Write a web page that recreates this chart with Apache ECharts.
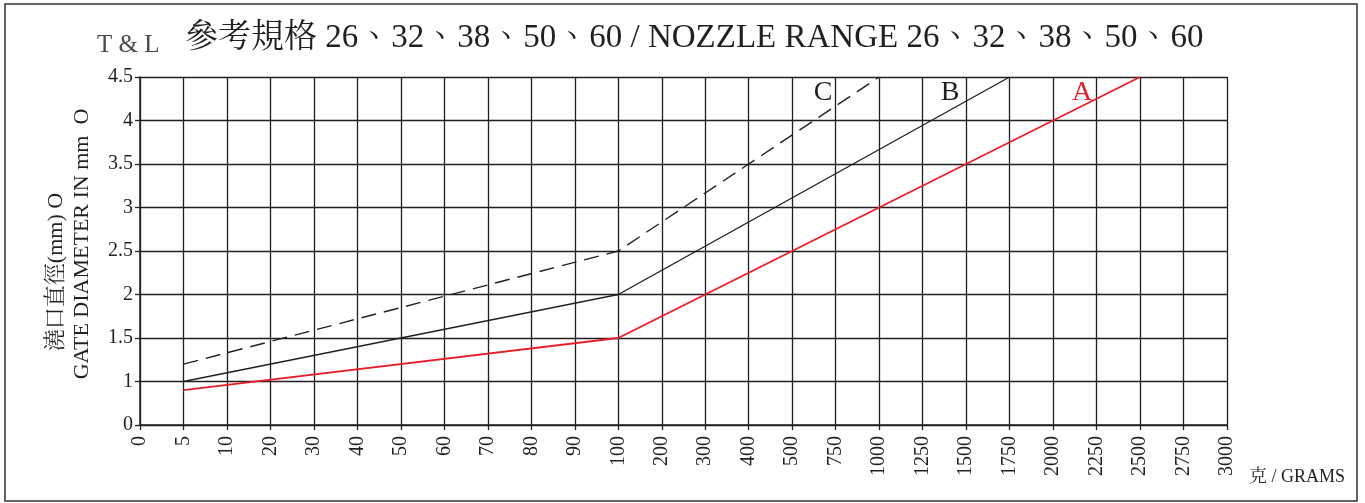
<!DOCTYPE html>
<html><head><meta charset="utf-8">
<script src="https://cdn.jsdelivr.net/npm/echarts@6/dist/echarts.min.js"></script>
<style>html,body{margin:0;padding:0;background:#fff}#c{width:1365px;height:503px}</style>
</head><body><div id="c"></div>
<script>
const categories = ['0','5','10','20','30','40','50','60','70','80','90','100','200','300','400','500','750','1000','1250','1500','1750','2000','2250','2500','2750','3000'];
const yTickLabels = ['0','1','1.5','2','2.5','3','3.5','4','4.5'];
const gramsA = ['5','100','2500'];
const valuesA = [0.8, 1.5, 4.5];
const gramsB = ['5','100','1750'];
const valuesB = [1.0, 2.0, 4.5];
const gramsC = ['5','100','1000'];
const valuesC = [1.2, 2.5, 4.5];

const SERIF = "'Liberation Serif','Noto Serif CJK TC','Noto Sans CJK TC',serif";
const INK = '#231f20';
// axis is piecewise: 0..1 occupies one step, then 0.5 per step
function toAxis(v){ return v <= 1 ? v : 1 + (v - 1) * 2; }
function pairs(g, v){ return g.map((x,i)=>[x, toAxis(v[i])]); }

const chart = echarts.init(document.getElementById('c'), null, {renderer:'canvas'});
chart.setOption({
  animation:false,
  backgroundColor:'#fff',
  grid:{left:140, right:138, top:77, bottom:78, containLabel:false},
  xAxis:{
    type:'category', data:categories, boundaryGap:false,
    axisLine:{lineStyle:{color:INK, width:1.5}},
    axisTick:{show:true, length:5, lineStyle:{color:INK, width:1.3}},
    splitLine:{show:true, lineStyle:{color:INK, width:1.3}},
    axisLabel:{rotate:90, interval:0, margin:11, color:INK, fontFamily:SERIF, fontSize:20}
  },
  yAxis:{
    type:'value', min:0, max:8, interval:1,
    axisLine:{show:true, lineStyle:{color:INK, width:1.5}},
    axisTick:{show:true, length:5, lineStyle:{color:INK, width:1.3}},
    splitLine:{show:true, lineStyle:{color:INK, width:1.3}},
    axisLabel:{margin:7, color:INK, fontFamily:SERIF, fontSize:20, formatter:(v)=>yTickLabels[v] ?? ''}
  },
  series:[
    {type:'line', name:'C', data:pairs(gramsC, valuesC), symbol:'none', lineStyle:{color:INK, width:1.4, type:[15,8]}},
    {type:'line', name:'B', data:pairs(gramsB, valuesB), symbol:'none', lineStyle:{color:INK, width:1.4}},
    {type:'line', name:'A', data:pairs(gramsA, valuesA), symbol:'none', lineStyle:{color:'#e61e28', width:1.8}}
  ],
  graphic:[
    {type:'rect', shape:{x:5, y:4, width:1352, height:497}, style:{fill:null, stroke:'#333', lineWidth:1.5}, z:-1},
    {type:'text', x:97, y:45, style:{text:'T & L', font:"25px "+SERIF, fill:'#4a4a4a', align:'left', verticalAlign:'middle'}},
    {type:'text', x:185, y:38, style:{text:'參考規格 26、32、38、50、60 / NOZZLE RANGE 26、32、38、50、60', font:"33px "+SERIF, fill:INK, align:'left', verticalAlign:'middle'}},
    {type:'text', x:56, y:272, rotation:Math.PI/2, style:{text:'澆口直徑(mm) O', font:"22px "+SERIF, fill:INK, align:'center', verticalAlign:'middle'}},
    {type:'text', x:82, y:244, rotation:Math.PI/2, style:{text:'GATE DIAMETER IN mm  O', font:"22px "+SERIF, fill:INK, align:'center', verticalAlign:'middle'}},
    {type:'text', x:1249, y:477, style:{text:'克 / GRAMS', font:"18px "+SERIF, fill:INK, align:'left', verticalAlign:'middle'}},
    {type:'text', x:823, y:93, style:{text:'C', font:"28px "+SERIF, fill:INK, align:'center', verticalAlign:'middle'}},
    {type:'text', x:950, y:93, style:{text:'B', font:"28px "+SERIF, fill:INK, align:'center', verticalAlign:'middle'}},
    {type:'text', x:1082, y:93, style:{text:'A', font:"28px "+SERIF, fill:'#e61e28', align:'center', verticalAlign:'middle'}}
  ]
});
</script></body></html>
